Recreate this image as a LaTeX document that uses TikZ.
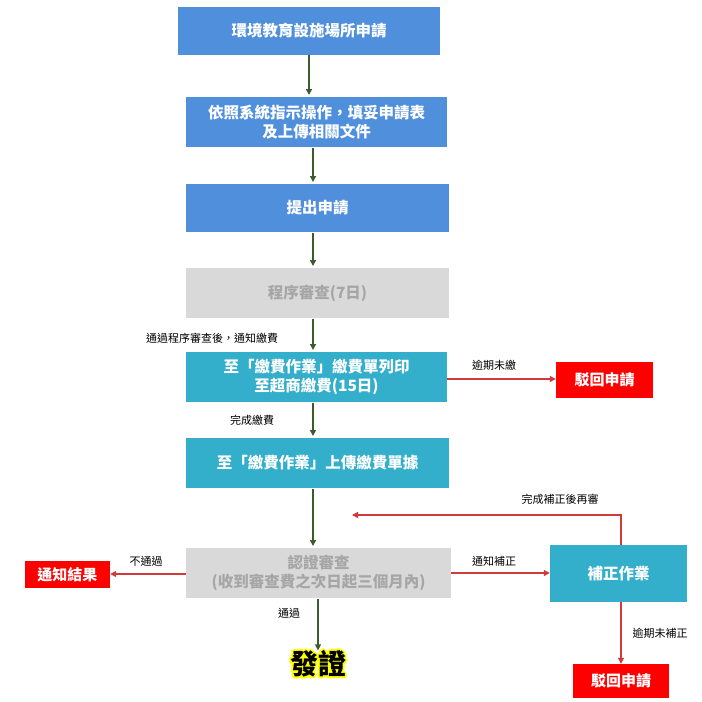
\documentclass[tikz,border=0pt]{standalone}
\usepackage{fontspec}
\setmainfont{Noto Sans CJK TC}
\usetikzlibrary{arrows.meta}
\definecolor{bblue}{HTML}{4F8FDC}
\definecolor{tteal}{HTML}{33AECB}
\definecolor{ggray}{HTML}{D9D9D9}
\definecolor{gtext}{HTML}{A6A6A6}
\definecolor{rred}{HTML}{FF0000}
\definecolor{garrow}{HTML}{3D5C2E}
\definecolor{rarrow}{HTML}{D03A3A}
\definecolor{glow}{HTML}{FFFF00}
\tikzset{
 x=1pt,y=-1pt,
 bx/.style={minimum height=50pt,align=center,font=\bfseries\fontsize{15.5}{19}\selectfont,text=white,inner sep=0pt},
 blue/.style={bx,fill=bblue},
 teal/.style={bx,fill=tteal},
 gray/.style={bx,fill=ggray,text=gtext},
 redb/.style={fill=rred,text=white,font=\bfseries\fontsize{15}{18}\selectfont,inner sep=0pt,minimum height=34pt},
 ga/.style={draw=garrow,line width=1.6pt,-{Triangle[length=6pt,width=6pt]}},
 ra/.style={draw=rarrow,line width=1.3pt,-{Triangle[length=6pt,width=6pt]}},
 lab/.style={font=\fontsize{11}{13}\selectfont,text=black},
 glowt/.style={font=\bfseries\fontsize{28}{32}\selectfont,text=glow,inner sep=0pt}
}
\begin{document}
\begin{tikzpicture}
\useasboundingbox (0,0) rectangle (702,702);
\node[blue,minimum width=262pt,minimum height=48pt] (b1) at (309,31) {環境教育設施場所申請};
\node[blue,minimum width=261pt] (b2) at (316.5,122) {依照系統指示操作，填妥申請表\\及上傳相關文件};
\node[blue,minimum width=263pt,minimum height=48pt] (b3) at (317.5,208) {提出申請};
\node[gray,minimum width=263pt] (b4) at (317.5,293) {程序審查(7日)};
\node[teal,minimum width=261pt] (b5) at (316.5,377) {至「繳費作業」繳費單列印\\至超商繳費(15日)};
\node[teal,minimum width=263pt] (b6) at (317.5,463) {至「繳費作業」上傳繳費單據};
\node[gray,minimum width=265pt] (b7) at (318.5,573) {認證審查\\(收到審查費之次日起三個月內)};
\node[teal,minimum width=137pt,minimum height=57pt] (b8) at (618.5,573.5) {補正作業};
\node[redb,minimum width=97pt,minimum height=36pt] (r1) at (604.5,380) {駁回申請};
\node[redb,minimum width=85pt,minimum height=27pt] (r2) at (67.5,574.5) {通知結果};
\node[redb,minimum width=96pt,minimum height=34pt] (r3) at (621,681) {駁回申請};
\foreach \dx/\dy in {-2/0,2/0,0/-2,0/2,-1.5/-1.5,1.5/1.5,-1.5/1.5,1.5/-1.5}
  \node[glowt] at (318+\dx,664+\dy) {發證};
\node[glowt,text=black] (fz) at (318,664) {發證};
\draw[ga] (309,55) -- (309,95);
\draw[ga] (313,148) -- (313,182);
\draw[ga] (313,233) -- (313,266);
\draw[ga] (313,319) -- (313,350);
\draw[ga] (313,403) -- (313,436);
\draw[ga] (313,489) -- (313,546);
\draw[ga] (318,599) -- (fz.north);
\node[lab] at (212,338) {通過程序審查後，通知繳費};
\node[lab] at (252,420) {完成繳費};
\node[lab] at (289,613) {通過};
\draw[ra] (447,379) -- (r1.west |- 0,379);
\node[lab] at (494,365) {逾期未繳};
\draw[ra] (186,574) -- (r2.east |- 0,574);
\node[lab] at (146,561) {不通過};
\draw[ra] (451,573) -- (b8.west |- 0,573);
\node[lab] at (494,561) {通知補正};
\draw[ra] (621,545) -- (621,515) -- (352,515);
\node[lab] at (560,499) {完成補正後再審};
\draw[ra] (621,602) -- (r3.north);
\node[lab] at (660,633) {逾期未補正};
\end{tikzpicture}
\end{document}
